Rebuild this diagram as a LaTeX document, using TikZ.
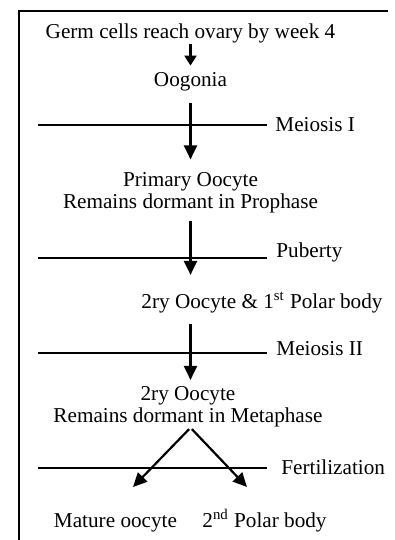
\documentclass[tikz,border=0pt]{standalone}
\usepackage{fontspec}
\setmainfont{Liberation Serif}
\usetikzlibrary{arrows.meta}

\begin{document}
\begin{tikzpicture}[x=0.5pt,y=-0.5pt,
  txt/.style={font=\fontsize{10.6}{11}\selectfont,inner sep=0pt,align=center},
  lab/.style={txt,anchor=base west},
  e/.style={-{Triangle[length=7pt,width=6.5pt]},line width=1.1pt},
  bar/.style={line width=0.65pt},
  frame/.style={line width=0.7pt}]
\useasboundingbox (0,0) rectangle (395,540);

% ---- frame (top and left only) ----
\draw[frame] (388,11) -- (19,11) -- (19,542);

% ---- stages ----
\node[txt,anchor=base] (germ) at (190.5,39) {Germ cells reach ovary by week 4};
\node[txt,anchor=base] (oog) at (190.5,87) {Oogonia};
\node[txt] (prim) at (190.5,192.5) {Primary Oocyte\\Remains dormant in Prophase};
\node[txt,anchor=base] (sec1) at (262,308) {2ry Oocyte \& 1\textsuperscript{st} Polar body};
\node[txt] (sec2) at (188,407) {2ry Oocyte\\Remains dormant in Metaphase};
\node[txt,anchor=base] (mature) at (115.5,527) {Mature oocyte};
\node[txt,anchor=base] (polar) at (264.5,527) {2\textsuperscript{nd} Polar body};
\coordinate (mtip) at (133,487);
\coordinate (ptip) at (247,487);

% ---- events ----
\node[lab] (mei1) at (275,131.5) {Meiosis I};
\node[lab] (pub) at (276,257) {Puberty};
\node[lab] (mei2) at (276,355) {Meiosis II};
\node[lab] (fert) at (281,474) {Fertilization};

\draw[bar] (38,125) -- (267,125);
\draw[bar] (38,258) -- (267,258);
\draw[bar] (38,353) -- (267,353);
\draw[bar] (38,468) -- (267,468);

% ---- arrows ----
\draw[e,-{Triangle[length=5pt,width=6pt]},shorten >=3.5pt] (germ.south) -- (oog.north);
\draw[e,shorten <=5.7pt,shorten >=6.2pt] (oog.south) -- (prim.north);
\draw[e,shorten <=3.7pt,shorten >=8.2pt] (prim.south) -- (prim.south |- sec1.north);
\draw[e,shorten <=5.7pt,shorten >=3.2pt] (prim.south |- sec1.south) -- (prim.south |- sec2.north);
\draw[e,shorten <=1pt] (sec2.south -| oog.south) -- (mtip);
\draw[e,shorten <=1pt] (sec2.south -| oog.south) -- (ptip);
\end{tikzpicture}
\end{document}
